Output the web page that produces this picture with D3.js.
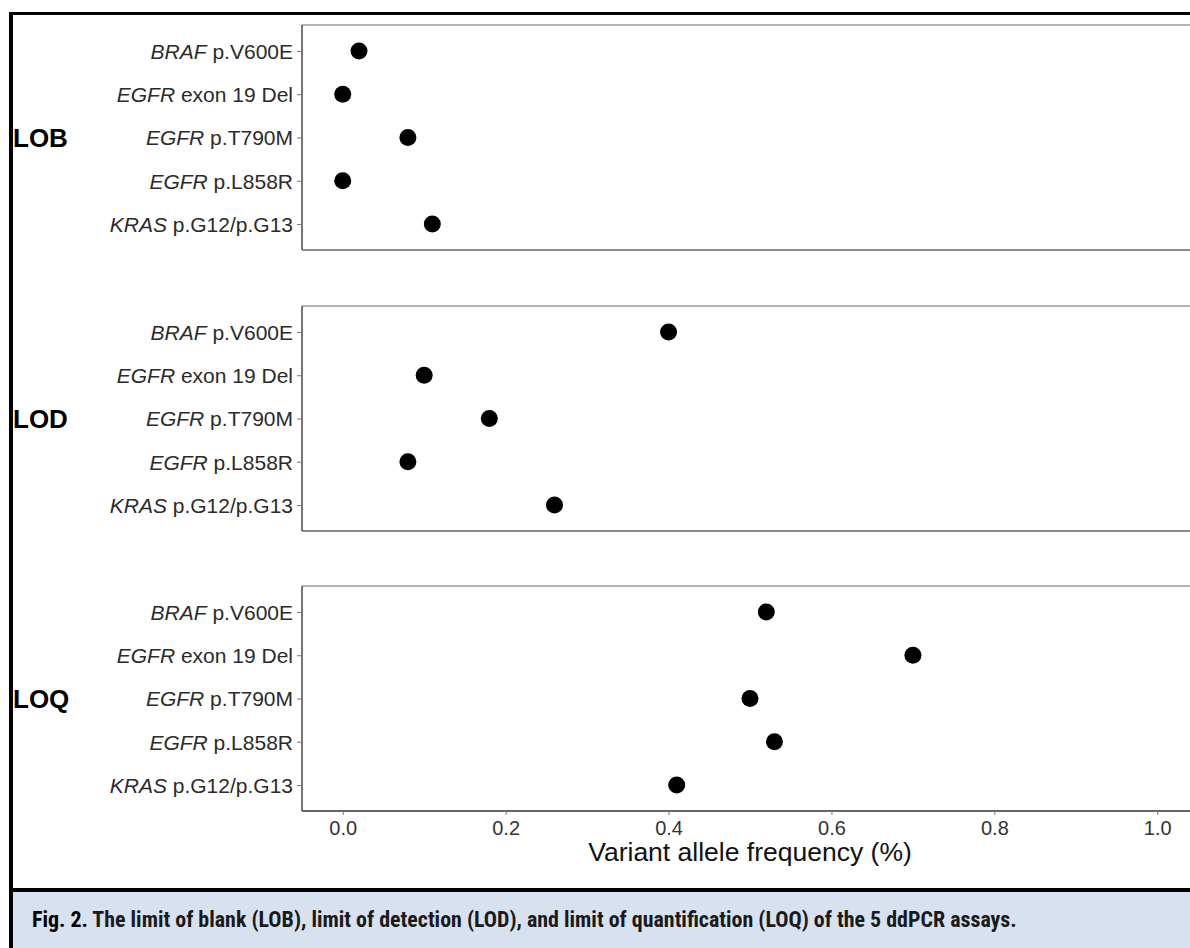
<!DOCTYPE html>
<html>
<head>
<meta charset="utf-8">
<script src="https://cdn.jsdelivr.net/npm/d3@7"></script>
<style>
  html, body { margin: 0; padding: 0; background: #fff; }
  svg { display: block; }
</style>
</head>
<body>
<div id="chart"></div>
<script>
// ---- data ----
const assays = ["BRAF p.V600E", "EGFR exon 19 Del", "EGFR p.T790M", "EGFR p.L858R", "KRAS p.G12/p.G13"];
const geneParts = ["BRAF", "EGFR", "EGFR", "EGFR", "KRAS"];
const restParts = [" p.V600E", " exon 19 Del", " p.T790M", " p.L858R", " p.G12/p.G13"];
const facets = ["LOB", "LOD", "LOQ"];
const lobValues = [0.02, 0.00, 0.08, 0.00, 0.11];
const lodValues = [0.40, 0.10, 0.18, 0.08, 0.26];
const loqValues = [0.52, 0.70, 0.50, 0.53, 0.41];
const xTicks = [0.0, 0.2, 0.4, 0.6, 0.8, 1.0];
const xTitle = "Variant allele frequency (%)";
const captionBold = "Fig. 2.";
const captionText = " The limit of blank (LOB), limit of detection (LOD), and limit of quantification (LOQ) of the 5 ddPCR assays.";

const facetValues = [lobValues, lodValues, loqValues];

// ---- layout ----
const W = 1190, H = 948;
const panelLeft = 302, panelRight = 1198;
const panelTops = [25, 306, 586];
const panelH = 225;
const sans = "'Liberation Sans', Arial, Helvetica, sans-serif";

const svg = d3.select("#chart").append("svg")
  .attr("width", W).attr("height", H);

const x = d3.scaleLinear().domain([-0.05, 1.05]).range([panelLeft, panelRight]);

// caption background
svg.append("rect").attr("x", 11).attr("y", 891).attr("width", W).attr("height", H - 891)
  .attr("fill", "#d8e1ef");

facets.forEach((f, i) => {
  const top = panelTops[i];
  const y = d3.scalePoint().domain(assays).range([top, top + panelH]).padding(0.6);
  const g = svg.append("g");

  // panel border: top/right lighter, left/bottom darker
  g.append("line").attr("x1", panelLeft).attr("x2", panelRight).attr("y1", top).attr("y2", top)
    .attr("stroke", "#9a9a9a").attr("stroke-width", 1.6);
  g.append("line").attr("x1", panelLeft).attr("x2", panelRight).attr("y1", top + panelH).attr("y2", top + panelH)
    .attr("stroke", i === 2 ? "#333" : "#666").attr("stroke-width", 1.6);

  // y axis
  const yAxis = d3.axisLeft(y).tickSize(5).tickPadding(4).tickFormat("");
  const ya = g.append("g").attr("transform", `translate(${panelLeft},0)`).call(yAxis);
  ya.select(".domain").attr("stroke", "#555").attr("stroke-width", 1.6)
    .attr("d", `M0,${top}V${top + panelH}`);
  ya.selectAll(".tick line").attr("stroke", "#777").attr("stroke-width", 1);

  // y labels with italic gene names
  ya.selectAll(".tick").each(function(d) {
    const t = d3.select(this).append("text")
      .attr("x", -9).attr("dy", "0.35em")
      .attr("text-anchor", "end")
      .attr("fill", "#2b2b2b")
      .style("font-family", sans)
      .style("font-size", "21px");
    const idx = assays.indexOf(d);
    t.append("tspan").style("font-style", "italic").text(geneParts[idx]);
    t.append("tspan").text(restParts[idx]);
  });

  // facet label
  g.append("text").attr("x", 13).attr("y", y(assays[2])).attr("dy", "0.36em")
    .style("font-family", sans)
    .style("font-size", "26px").style("font-weight", "bold")
    .attr("fill", "#000").text(f);

  // points
  g.selectAll("circle").data(facetValues[i]).join("circle")
    .attr("cx", d => x(d))
    .attr("cy", (d, k) => y(assays[k]))
    .attr("r", 8.5)
    .attr("fill", "#000");

  // x axis only on bottom panel
  if (i === 2) {
    const xAxis = d3.axisBottom(x).tickValues(xTicks).tickSize(4).tickPadding(6)
      .tickFormat(d3.format(".1f"));
    const xa = g.append("g").attr("transform", `translate(0,${top + panelH})`).call(xAxis);
    xa.select(".domain").remove();
    xa.selectAll(".tick line").attr("stroke", "#777");
    xa.selectAll(".tick text")
      .style("font-family", sans)
      .style("font-size", "20px").attr("fill", "#333");
    g.append("text").attr("x", (panelLeft + panelRight) / 2).attr("y", 861)
      .attr("text-anchor", "middle")
      .style("font-family", sans)
      .style("font-size", "26.5px").attr("fill", "#111").text(xTitle);
  }
});

// frame
svg.append("line").attr("x1", 9).attr("x2", W).attr("y1", 13.5).attr("y2", 13.5)
  .attr("stroke", "#000").attr("stroke-width", 3);
svg.append("line").attr("x1", 11).attr("x2", 11).attr("y1", 12).attr("y2", H)
  .attr("stroke", "#000").attr("stroke-width", 4);
svg.append("line").attr("x1", 9).attr("x2", W).attr("y1", 890).attr("y2", 890)
  .attr("stroke", "#000").attr("stroke-width", 4);

// caption
const cap = svg.append("text").attr("x", 32).attr("y", 927)
  .style("font-family", "'Liberation Sans Narrow', 'Arial Narrow', 'Roboto', sans-serif")
  .style("font-stretch", "condensed")
  .style("font-size", "20px").attr("fill", "#1a1a1a");
cap.append("tspan").style("font-weight", "bold").attr("fill", "#000").text(captionBold);
cap.append("tspan").style("font-weight", "bold").text(captionText);
// fit caption width to the measured span in the reference
const target = 985;
const len = cap.node().getComputedTextLength();
if (len > 0) {
  const fs = 20 * target / len;
  cap.style("font-size", Math.min(Math.max(fs, 14), 24) + "px");
}
</script>
</body>
</html>
